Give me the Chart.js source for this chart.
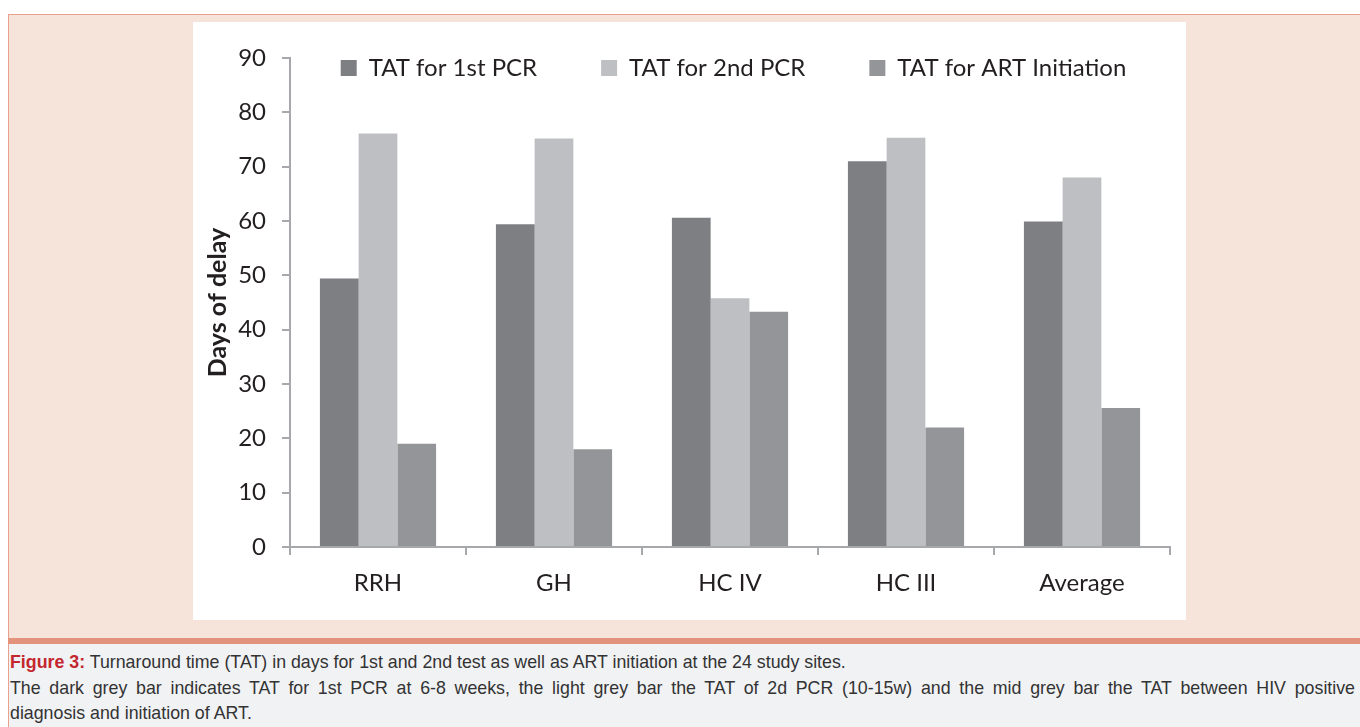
<!DOCTYPE html>
<html>
<head>
<meta charset="utf-8">
<script src="https://cdn.jsdelivr.net/npm/chart.js@4.4.1/dist/chart.umd.min.js"></script>
<style>
  html, body { margin: 0; padding: 0; background: #ffffff; width: 1360px; height: 727px; overflow: hidden; }
  #panel { position: absolute; left: 8px; top: 14px; width: 1360px; height: 624px; background: #f6e4db;
           border-left: 1px solid #e9a08c; border-top: 1px solid #e9a08c; box-sizing: border-box; }
  #rule { position: absolute; left: 8px; top: 638px; width: 1360px; height: 6px; background: #e3927c; }
  #capbox { position: absolute; left: 8px; top: 644px; width: 1360px; height: 83px; background: #f1f2f4;
            border-left: 1px solid #e9a08c; box-sizing: border-box; }
  #caption { position: absolute; left: 10px; top: 650px; width: 1345px; font-family: "Liberation Sans", Arial, sans-serif;
             font-size: 17.8px; line-height: 25.5px; color: #333333; text-align: justify; }
  #caption b { color: #c4262e; }
  #chartbox { position: absolute; left: 193px; top: 22px; width: 993px; height: 598px; background: #ffffff; }
</style>
</head>
<body>
<div id="panel"></div>
<div id="rule"></div>
<div id="capbox"></div>
<div id="caption"><b>Figure 3:</b> Turnaround time (TAT) in days for 1st and 2nd test as well as ART initiation at the 24 study sites.<br>
<span style="display:block;text-align:justify;text-align-last:justify;">The dark grey bar indicates TAT for 1st PCR at 6-8 weeks, the light grey bar the TAT of 2d PCR (10-15w) and the mid grey bar the TAT between HIV positive</span>diagnosis and initiation of ART.</div>
<div id="chartbox"><canvas id="c" width="993" height="598"></canvas></div>
<script>
const categories = ['RRH', 'GH', 'HC IV', 'HC III', 'Average'];
const seriesNames = ['TAT for 1st PCR', 'TAT for 2nd PCR', 'TAT for ART Initiation'];
const tat1stPCR = [49.4, 59.4, 60.6, 71.0, 59.9];
const tat2ndPCR = [76.1, 75.2, 45.8, 75.3, 68.0];
const tatART = [19.0, 18.0, 43.3, 22.0, 25.6];
const yTicks = [0, 10, 20, 30, 40, 50, 60, 70, 80, 90];

const axisColor = '#a7a8ac';
const textColor = '#231f20';
const FONT = 'Lato';

// Legend sits inside the plot area in the reference: let it take no layout space, then place it.
const legendMover = {
  id: 'legendMover',
  beforeLayout(chart) {
    const lg = chart.legend;
    if (lg && !lg._wrappedFit) {
      const orig = lg.fit.bind(lg);
      lg.fit = function () { this.maxWidth = 3000; orig(); this.height = 0; };
      lg._wrappedFit = true;
    }
  },
  beforeDraw(chart) {
    const lg = chart.legend;
    if (!lg) return;
    const centre = 540.5;
    lg.left = centre - 1000;
    lg.right = centre + 1000;
    lg.top = -30;
    lg.bottom = lg.top + 100;
  }
};

new Chart(document.getElementById('c'), {
  type: 'bar',
  data: {
    labels: categories,
    datasets: [
      { label: seriesNames[0], data: tat1stPCR, backgroundColor: '#7e7f83', borderWidth: 0 },
      { label: seriesNames[1], data: tat2ndPCR, backgroundColor: '#bebfc3', borderWidth: 0 },
      { label: seriesNames[2], data: tatART, backgroundColor: '#949599', borderWidth: 0 }
    ]
  },
  options: {
    responsive: false,
    animation: false,
    devicePixelRatio: 1,
    layout: { padding: { top: 36, right: 16, left: 0, bottom: 0 } },
    datasets: { bar: { categoryPercentage: 0.66, barPercentage: 1.0 } },
    plugins: {
      tooltip: { enabled: false },
      legend: {
        position: 'top',
        align: 'center',
        labels: {
          boxWidth: 16, boxHeight: 16, padding: 64,
          color: textColor,
          font: { family: FONT, size: 24 }
        }
      }
    },
    scales: {
      x: {
        offset: true,
        grid: { display: true, offset: true, drawOnChartArea: false, drawTicks: true, tickLength: 8, color: axisColor, lineWidth: 2 },
        border: { display: true, color: axisColor, width: 2 },
        ticks: { color: textColor, font: { family: FONT, size: 24 }, padding: 14 },
        afterFit(s) { s.height = 73; }
      },
      y: {
        min: 0, max: 90,
        afterBuildTicks(s) { s.ticks = yTicks.map(v => ({ value: v })); },
        grid: { display: true, drawOnChartArea: false, drawTicks: true, tickLength: 8, color: axisColor, lineWidth: 2 },
        border: { display: true, color: axisColor, width: 2 },
        ticks: { color: textColor, font: { family: FONT, size: 24 }, padding: 16 },
        title: { display: true, text: 'Days of delay', color: textColor, font: { family: FONT, size: 25, weight: 'bold' }, padding: { top: 10, bottom: 0 } },
        afterFit(s) { s.width = 97; }
      }
    }
  },
  plugins: [legendMover]
});
</script>
</body>
</html>
